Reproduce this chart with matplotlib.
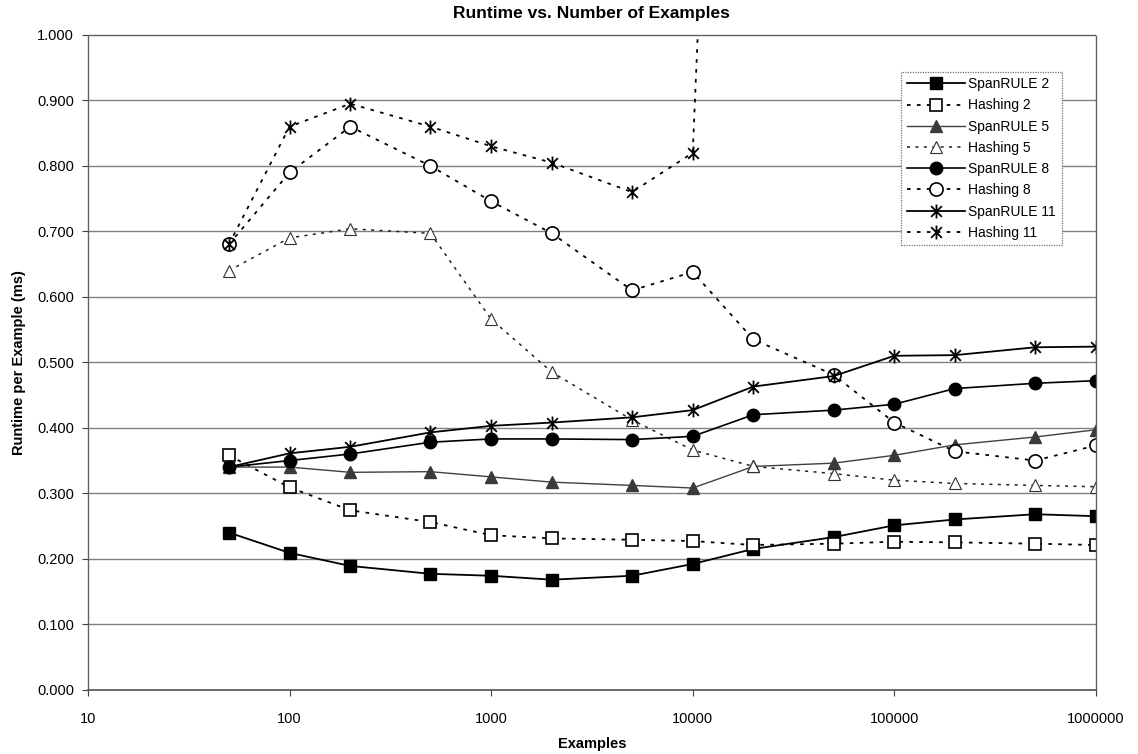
import numpy as np
import matplotlib
matplotlib.use("Agg")
from matplotlib import pyplot as plt
from matplotlib.path import Path
from matplotlib.ticker import FixedLocator, FuncFormatter, NullLocator

plt.rcParams['font.family'] = ['Liberation Sans', 'DejaVu Sans']

examples = [50, 100, 200, 500, 1000, 2000, 5000, 10000,
            20000, 50000, 100000, 200000, 500000, 1000000]

span_2 = [0.240, 0.209, 0.189, 0.177, 0.174, 0.168, 0.174, 0.192,
          0.215, 0.233, 0.251, 0.260, 0.268, 0.265]
hash_2 = [0.358, 0.309, 0.274, 0.256, 0.236, 0.231, 0.229, 0.227,
          0.221, 0.223, 0.226, 0.225, 0.223, 0.221]
span_5 = [0.340, 0.340, 0.332, 0.333, 0.325, 0.317, 0.312, 0.308,
          0.341, 0.346, 0.358, 0.374, 0.386, 0.397]
hash_5 = [0.640, 0.690, 0.704, 0.697, 0.566, 0.485, 0.412, 0.366,
          0.341, 0.330, 0.320, 0.315, 0.312, 0.310]
span_8 = [0.340, 0.350, 0.360, 0.378, 0.383, 0.383, 0.382, 0.387,
          0.420, 0.427, 0.436, 0.460, 0.468, 0.472]
hash_8 = [0.680, 0.790, 0.860, 0.800, 0.746, 0.697, 0.610, 0.638,
          0.535, 0.481, 0.408, 0.364, 0.350, 0.373]
span_11 = [0.340, 0.361, 0.371, 0.393, 0.403, 0.408, 0.416, 0.427,
           0.463, 0.479, 0.510, 0.511, 0.523, 0.524]
# the 20000 run blew past the axis; later runs were not recorded
hash_11 = [0.680, 0.860, 0.895, 0.860, 0.830, 0.805, 0.760, 0.820,
           3.0, np.nan, np.nan, np.nan, np.nan, np.nan]

x_ticks = [10, 100, 1000, 10000, 100000, 1000000]
y_ticks = [0.0, 0.1, 0.2, 0.3, 0.4, 0.5, 0.6, 0.7, 0.8, 0.9, 1.0]

# excel-style star: an X with a vertical bar through it
star = Path(
    [(-1, -1), (1, 1), (-1, 1), (1, -1), (0, -1.3), (0, 1.3)],
    [Path.MOVETO, Path.LINETO, Path.MOVETO, Path.LINETO, Path.MOVETO, Path.LINETO],
)

dash = (0, (2.0, 3.5))
series = [
    ("SpanRULE 2", span_2, dict(ls='-', color='black', lw=1.3, marker='s', ms=8.5,
                                mfc='black', mec='black')),
    ("Hashing 2", hash_2, dict(ls=dash, color='black', lw=1.3, marker='s', ms=8.5,
                               mfc='white', mec='black', mew=1.2)),
    ("SpanRULE 5", span_5, dict(ls='-', color='#404040', lw=1.0, marker='^', ms=8.5,
                                mfc='#3a3a3a', mec='#3a3a3a')),
    ("Hashing 5", hash_5, dict(ls=dash, color='#202020', lw=1.1, marker='^', ms=9,
                               mfc='white', mec='#303030', mew=0.8)),
    ("SpanRULE 8", span_8, dict(ls='-', color='black', lw=1.2, marker='o', ms=9,
                                mfc='black', mec='black')),
    ("Hashing 8", hash_8, dict(ls=dash, color='black', lw=1.3, marker='o', ms=9.5,
                               mfc='white', mec='black', mew=1.2)),
    ("SpanRULE 11", span_11, dict(ls='-', color='black', lw=1.3, marker=star, ms=10,
                                  mfc='none', mec='black', mew=1.3)),
    ("Hashing 11", hash_11, dict(ls=dash, color='black', lw=1.3, marker=star, ms=10,
                                 mfc='none', mec='black', mew=1.3)),
]

fig = plt.figure(figsize=(11.38, 7.54), dpi=100)
ax = fig.add_axes([0.0773, 0.0853, 0.8857, 0.8683])

for y in y_ticks[1:-1]:
    ax.axhline(y, color='#808080', lw=1.0, zorder=0)

for label, values, style in series:
    ax.plot(examples, values, label=label, clip_on=True, **style)

ax.set_xscale('log')
ax.set_xlim(10, 1000000)
ax.set_ylim(0, 1.0)
ax.xaxis.set_major_locator(FixedLocator(x_ticks))
ax.xaxis.set_minor_locator(NullLocator())
ax.xaxis.set_major_formatter(FuncFormatter(lambda v, p: f"{int(round(v))}"))
ax.set_yticks(y_ticks)
ax.yaxis.set_major_formatter(FuncFormatter(lambda v, p: f"{v:.3f}"))
ax.tick_params(axis='both', direction='out', length=4, width=0.8, color='#404040',
               labelsize=10.5, pad=6)
ax.tick_params(axis='x', pad=12)

for side in ['top', 'right', 'left']:
    ax.spines[side].set_color('#606060')
    ax.spines[side].set_linestyle((0, (1, 1)))
    ax.spines[side].set_linewidth(1.0)
ax.spines['bottom'].set_color('#505050')
ax.spines['bottom'].set_linewidth(1.2)

ax.set_title("Runtime vs. Number of Examples", fontsize=12.5, fontweight='bold', pad=12)
ax.set_xlabel("Examples", fontsize=10.5, fontweight='bold', labelpad=8)
ax.set_ylabel("Runtime per Example (ms)", fontsize=10.5, fontweight='bold', labelpad=8)

leg = ax.legend(loc='upper right', bbox_to_anchor=(0.966, 0.944), fontsize=10,
                numpoints=1, handlelength=4.2, handletextpad=0.25, labelspacing=0.52,
                borderpad=0.4, borderaxespad=0.0, fancybox=False, framealpha=1.0,
                edgecolor='#707070')
leg.get_frame().set_linestyle((0, (1, 1)))
leg.get_frame().set_linewidth(0.9)

fig.savefig("out.png", dpi=100)
